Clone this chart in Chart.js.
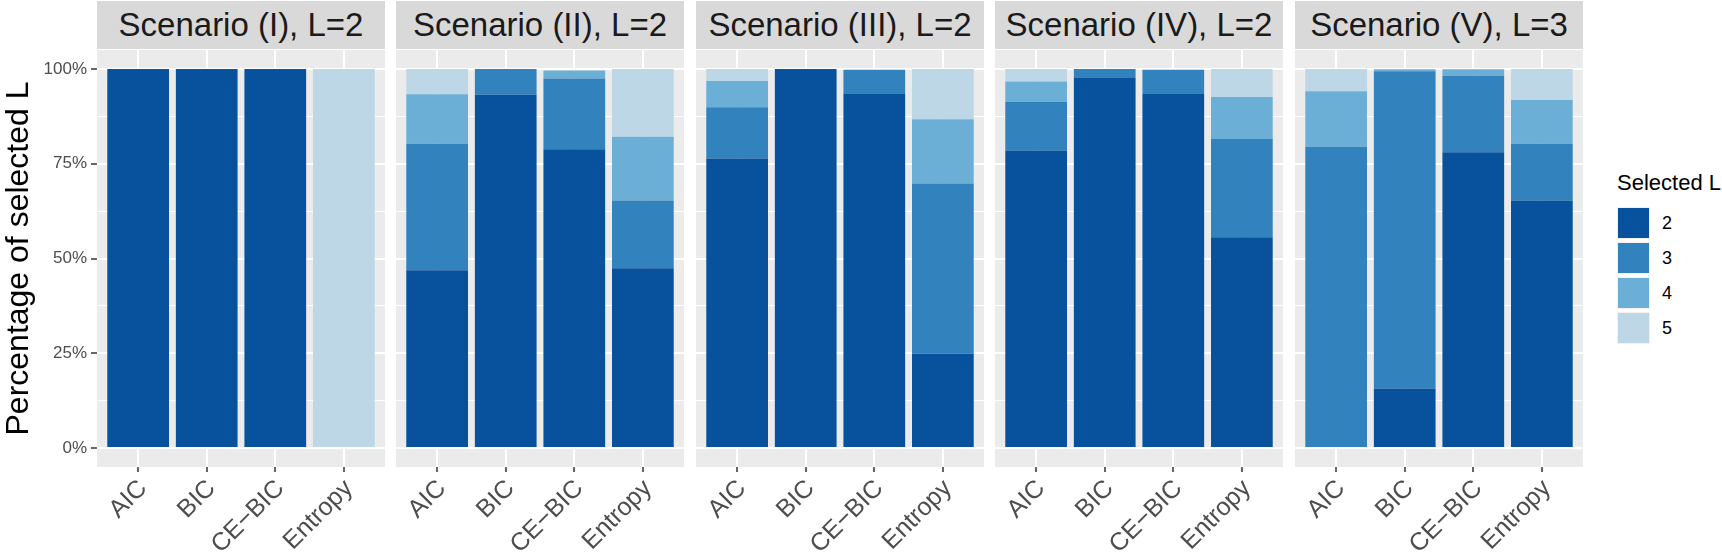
<!DOCTYPE html>
<html lang="en">
<head>
<meta charset="UTF-8">
<title>Percentage of selected L by scenario</title>
<script src="https://cdn.jsdelivr.net/npm/chart.js"></script>
<style>
    body {
        margin: 0;
        background: #fff;
        font-family: "Liberation Sans", Arial, Helvetica, sans-serif;
    }

    #wrap {
        position: relative;
        width: 1722px;
        height: 555px;
        overflow: hidden;
    }

    #wrap canvas {
        position: absolute;
        top: 50px;
    }

    .strip {
        position: absolute;
        top: 1px;
        width: 288px;
        height: 48px;
        background: #d9d9d9;
        color: #1a1a1a;
        font-size: 33px;
        line-height: 48px;
        text-align: center;
        white-space: nowrap;
    }

    .legend-title {
        position: absolute;
        left: 1617px;
        top: 172px;
        font-size: 22px;
        line-height: 22px;
        color: #000;
        white-space: nowrap;
    }

    .key {
        position: absolute;
        left: 1617px;
        width: 33px;
        height: 32px;
        box-sizing: border-box;
        border: 1px solid #f2f2f2;
    }

    .key-label {
        position: absolute;
        left: 1662px;
        font-size: 18px;
        line-height: 32px;
        color: #000;
    }
</style>
</head>
<body>
<div id="wrap"></div>

<script>
    // panel titles and x categories
    const scenarios = ['Scenario (I), L=2', 'Scenario (II), L=2', 'Scenario (III), L=2', 'Scenario (IV), L=2', 'Scenario (V), L=3'];
    const methods = ['AIC', 'BIC', 'CE\u2212BIC', 'Entropy'];
    const levels = ['2', '3', '4', '5'];
    const yTicks = [0, 12.5, 25, 37.5, 50, 62.5, 75, 87.5, 100];

    // percentage selecting each L, one row per scenario, columns = methods
    const pctL2 = [[100, 100, 100, 0], [46.9, 93.2, 78.8, 47.4], [76.4, 100, 93.4, 24.9], [78.5, 97.6, 93.4, 55.6], [0, 15.7, 78.0, 65.3]];
    const pctL3 = [[0, 0, 0, 0], [33.4, 6.8, 18.7, 17.9], [13.5, 0, 6.4, 44.9], [12.8, 2.4, 6.4, 25.9], [79.5, 83.7, 20.2, 15.0]];
    const pctL4 = [[0, 0, 0, 0], [13.0, 0, 2.1, 16.8], [6.9, 0, 0, 16.9], [5.4, 0, 0, 11.1], [14.6, 0.5, 1.7, 11.5]];
    const pctL5 = [[0, 0, 0, 100], [6.7, 0, 0, 17.9], [3.2, 0, 0, 13.3], [3.3, 0, 0, 7.4], [5.9, 0, 0, 8.2]];

    const colors = ['#08519c', '#3182bd', '#6baed6', '#bdd7e7'];
    const panelLeft = [97, 396, 696, 995, 1295];
    const panelW = 288;
    const yAxisW = 97;

    // grey panel background, like ggplot's theme_grey
    const panelBg = {
        id: 'panelBg',
        beforeDraw(chart) {
            const a = chart.chartArea;
            const ctx = chart.ctx;
            ctx.save();
            ctx.fillStyle = '#ebebeb';
            ctx.fillRect(a.left, a.top, a.right - a.left, a.bottom - a.top);
            ctx.restore();
        }
    };

    const wrap = document.getElementById('wrap');
    const series = [pctL2, pctL3, pctL4, pctL5];

    scenarios.forEach((name, i) => {
        const first = i === 0;

        const strip = document.createElement('div');
        strip.className = 'strip';
        strip.style.left = panelLeft[i] + 'px';
        strip.textContent = name;
        wrap.appendChild(strip);

        const canvas = document.createElement('canvas');
        canvas.width = first ? panelLeft[0] + panelW : panelW;
        canvas.height = 505;
        canvas.style.left = (first ? 0 : panelLeft[i]) + 'px';
        wrap.appendChild(canvas);

        const isMajor = v => v % 25 === 0;

        new Chart(canvas.getContext('2d'), {
            type: 'bar',
            data: {
                datasets: series.map((s, k) => ({
                    label: levels[k],
                    data: s[i].map((v, j) => ({ x: j, y: v })),
                    backgroundColor: colors[k],
                    borderWidth: 0,
                    barPercentage: 0.9,
                    categoryPercentage: 1
                }))
            },
            options: {
                responsive: false,
                animation: false,
                layout: { padding: 0 },
                plugins: {
                    legend: { display: false },
                    tooltip: { enabled: false }
                },
                scales: {
                    x: {
                        type: 'linear',
                        stacked: true,
                        offset: false,
                        min: -0.6,
                        max: 3.6,
                        afterBuildTicks: s => { s.ticks = methods.map((m, j) => ({ value: j })); },
                        ticks: {
                            callback: v => methods[v],
                            autoSkip: false,
                            maxRotation: 45,
                            minRotation: 45,
                            padding: 2,
                            labelOffset: 5,
                            color: '#4d4d4d',
                            font: { family: '"Liberation Sans", Arial, sans-serif', size: 25 }
                        },
                        grid: { offset: false, color: '#ffffff', lineWidth: 2, tickLength: 5, tickColor: '#333333', tickWidth: 1.5 },
                        border: { display: false },
                        afterFit: s => { s.height = 88; s.paddingLeft = 0; s.paddingRight = 0; }
                    },
                    y: {
                        stacked: true,
                        min: -5,
                        max: 105,
                        afterBuildTicks: s => { s.ticks = yTicks.map(v => ({ value: v })); },
                        ticks: {
                            display: first,
                            callback: v => isMajor(v) ? v + '%' : '',
                            padding: 4,
                            color: '#4d4d4d',
                            font: { family: '"Liberation Sans", Arial, sans-serif', size: 17 }
                        },
                        grid: {
                            color: '#ffffff',
                            lineWidth: ctx => isMajor(ctx.tick.value) ? 2 : 1,
                            drawTicks: first,
                            tickLength: 6,
                            tickWidth: 1.5,
                            tickColor: ctx => isMajor(ctx.tick.value) ? '#333333' : 'rgba(0,0,0,0)'
                        },
                        border: { display: false },
                        title: {
                            display: first,
                            text: 'Percentage of selected L',
                            color: '#000',
                            padding: 0,
                            font: { family: '"Liberation Sans", Arial, sans-serif', size: 32 }
                        },
                        afterFit: s => { s.width = first ? yAxisW : 0; s.paddingTop = 0; s.paddingBottom = 0; }
                    }
                }
            },
            plugins: [panelBg]
        });
    });

    // legend
    const title = document.createElement('div');
    title.className = 'legend-title';
    title.textContent = 'Selected L';
    wrap.appendChild(title);

    levels.forEach((lv, k) => {
        const top = 207 + k * 35;
        const key = document.createElement('div');
        key.className = 'key';
        key.style.top = top + 'px';
        key.style.background = colors[k];
        wrap.appendChild(key);

        const lab = document.createElement('div');
        lab.className = 'key-label';
        lab.style.top = top + 'px';
        lab.textContent = lv;
        wrap.appendChild(lab);
    });
</script>
</body>
</html>
